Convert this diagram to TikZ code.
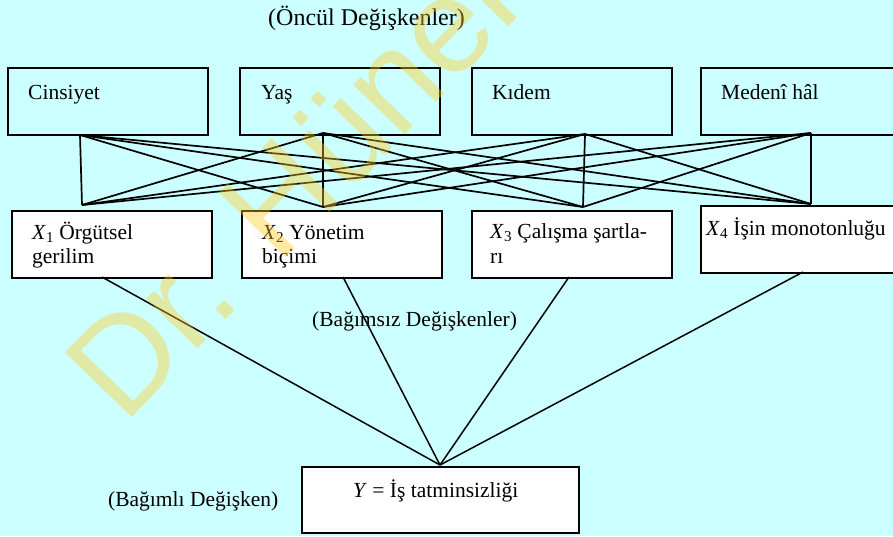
\documentclass[tikz,border=0pt]{standalone}
\usepackage{fontspec}
\setmainfont{Liberation Serif}
\newfontfamily\wmfont{Liberation Sans}
\definecolor{bgc}{RGB}{204,255,255}
\definecolor{wmc}{RGB}{255,200,30}
\begin{document}
\begin{tikzpicture}[x=1pt,y=-1pt,
  boxc/.style={draw, line width=1.9pt, fill=bgc, inner sep=0pt, anchor=north west, minimum width=200pt, minimum height=67pt},
  boxw/.style={boxc, fill=white},
  lbl/.style={anchor=base west, inner sep=0pt, font=\fontsize{21.5}{24}\selectfont},
  link/.style={line width=1.7pt},
  wm/.style={anchor=base west, inner sep=0pt, text=wmc, text opacity=0.4, font=\wmfont\fontsize{135}{135}\selectfont}]
\useasboundingbox (0,0) rectangle (893,536);
\fill[bgc] (0,0) rectangle (893,536);
% top boxes
\node[boxc] (c1) at (7,67) {};
\node[boxc] (c2) at (239,67) {};
\node[boxc] (c3) at (471,67) {};
\node[boxc] (c4) at (700,67) {};
% bottom boxes
\node[boxw] (x1) at (11,210) {};
\node[boxw] (x2) at (241,210) {};
\node[boxw] (x3) at (471,210) {};
\node[boxw] (x4) at (700,205) {};
\node[boxw, minimum width=277pt, minimum height=66pt] (y) at (301,466) {};
% connection points
\coordinate (t1) at (80,135);
\coordinate (t2) at (323,133);
\coordinate (t3) at (585,134);
\coordinate (t4) at (811,133);
\coordinate (b1) at (82,205);
\coordinate (b2) at (323,207);
\coordinate (b3) at (583,207);
\coordinate (b4) at (811,204);
\foreach \i in {1,...,4}{
  \foreach \j in {1,...,4}{
    \draw[link] (t\i) -- (b\j);
  }
}
\coordinate (x1b) at (102,277);
\coordinate (x2b) at (343,277);
\coordinate (x3b) at (569,277);
\coordinate (x4b) at (803,272);
\coordinate (yt) at (440,465);
\foreach \k in {1,...,4}{
  \draw[line width=1.5pt] (x\k b) -- (yt);
}
% texts
\node[lbl, font=\fontsize{24}{26}\selectfont] (oncul) at (268,25) {(Öncül Değişkenler)};
\node[lbl] (tc1) at (28,99) {Cinsiyet};
\node[lbl] (tc2) at (261,99) {Yaş};
\node[lbl] (tc3) at (492,99) {Kıdem};
\node[lbl] (tc4) at (721,99) {Medenî hâl};
\node[lbl] (tx1a) at (32,239) {\textit{X}\textsubscript{1} Örgütsel};
\node[lbl] (tx1b) at (32,263) {gerilim};
\node[lbl] (tx2a) at (262,239) {\textit{X}\textsubscript{2} Yönetim};
\node[lbl] (tx2b) at (262,263) {biçimi};
\node[lbl] (tx3a) at (490,238) {\textit{X}\textsubscript{3} Çalışma şartla-};
\node[lbl] (tx3b) at (490,263) {rı};
\node[lbl] (tx4a) at (706,235) {\textit{X}\textsubscript{4} İşin monotonluğu};
\node[lbl] (bagimsiz) at (312,326) {(Bağımsız Değişkenler)};
\node[lbl] (ty) at (353,497) {\textit{Y} = İş tatminsizliği};
\node[lbl] (bagimli) at (108,506) {(Bağımlı Değişken)};
% watermark
\node[wm, rotate=46] (wmark) at (124,426) {Dr. Hüner Ş};
\end{tikzpicture}
\end{document}
